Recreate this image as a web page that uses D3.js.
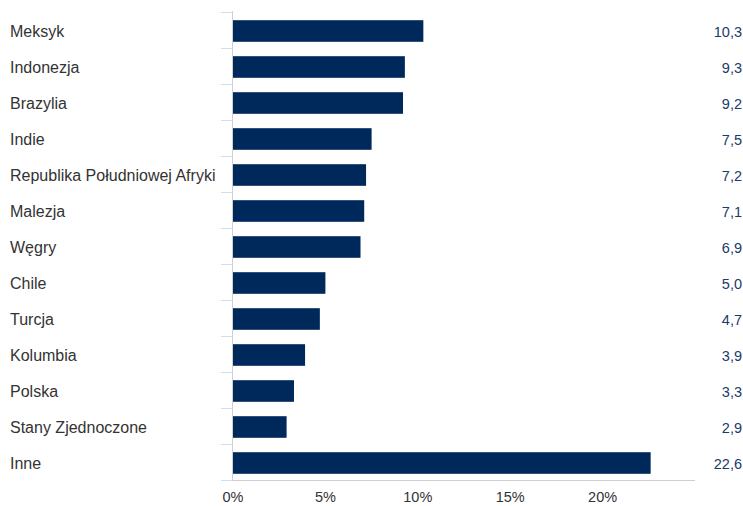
<!DOCTYPE html>
<html><head><meta charset="utf-8">
<script src="https://cdn.jsdelivr.net/npm/d3@7"></script>
<style>body{margin:0;background:#fff;}svg{display:block;font-family:"Liberation Sans",Arial,sans-serif;}</style>
</head><body>
<svg id="c" width="743" height="506"></svg>
<script>
const categories = ["Meksyk","Indonezja","Brazylia","Indie","Republika Południowej Afryki","Malezja","Węgry","Chile","Turcja","Kolumbia","Polska","Stany Zjednoczone","Inne"];
const values = [10.3,9.3,9.2,7.5,7.2,7.1,6.9,5.0,4.7,3.9,3.3,2.9,22.6];
const valueLabels = ["10,3","9,3","9,2","7,5","7,2","7,1","6,9","5,0","4,7","3,9","3,3","2,9","22,6"];
const xTicks = [0,5,10,15,20];

const svg = d3.select("#c");
const x = d3.scaleLinear().domain([0,25]).range([233,695]);
const y = d3.scaleBand().domain(categories).range([12,480]).paddingInner(0.4).paddingOuter(0.2);

// category tick marks
const bounds = categories.map((c,i)=>12+i*(468/13)).concat([480]);
svg.selectAll("line.ct").data(bounds).join("line")
  .attr("x1",221).attr("x2",232.5).attr("y1",d=>Math.round(d)+0.5).attr("y2",d=>Math.round(d)+0.5)
  .attr("stroke","#d3dcef").attr("stroke-width",1);

// bars
svg.selectAll("rect.bar").data(values).join("rect")
  .attr("x",x(0)).attr("y",(d,i)=>y(categories[i])+1)
  .attr("width",d=>x(d)-x(0)).attr("height",y.bandwidth())
  .attr("fill","#00295b");

// axes lines
svg.append("line").attr("x1",232.5).attr("x2",232.5).attr("y1",11).attr("y2",480.5).attr("stroke","#d0d0d0");
svg.append("line").attr("x1",232).attr("x2",695).attr("y1",480.5).attr("y2",480.5).attr("stroke","#d0d0d0");

// category labels
svg.selectAll("text.cat").data(categories).join("text")
  .attr("x",10).attr("y",d=>y(d)+1.5+y.bandwidth()/2).attr("dy","0.35em")
  .attr("font-size",16).attr("fill","#333").text(d=>d);

// value labels
svg.selectAll("text.val").data(valueLabels).join("text")
  .attr("x",742).attr("y",(d,i)=>y(categories[i])+1.5+y.bandwidth()/2).attr("dy","0.35em")
  .attr("text-anchor","end").attr("font-size",14.5).attr("fill","#1a3a6b").text(d=>d);

// x tick labels
svg.selectAll("text.xt").data(xTicks).join("text")
  .attr("x",d=>x(d)).attr("y",502).attr("text-anchor","middle")
  .attr("font-size",14.5).attr("fill","#333").text(d=>d+"%");
</script>
</body></html>
